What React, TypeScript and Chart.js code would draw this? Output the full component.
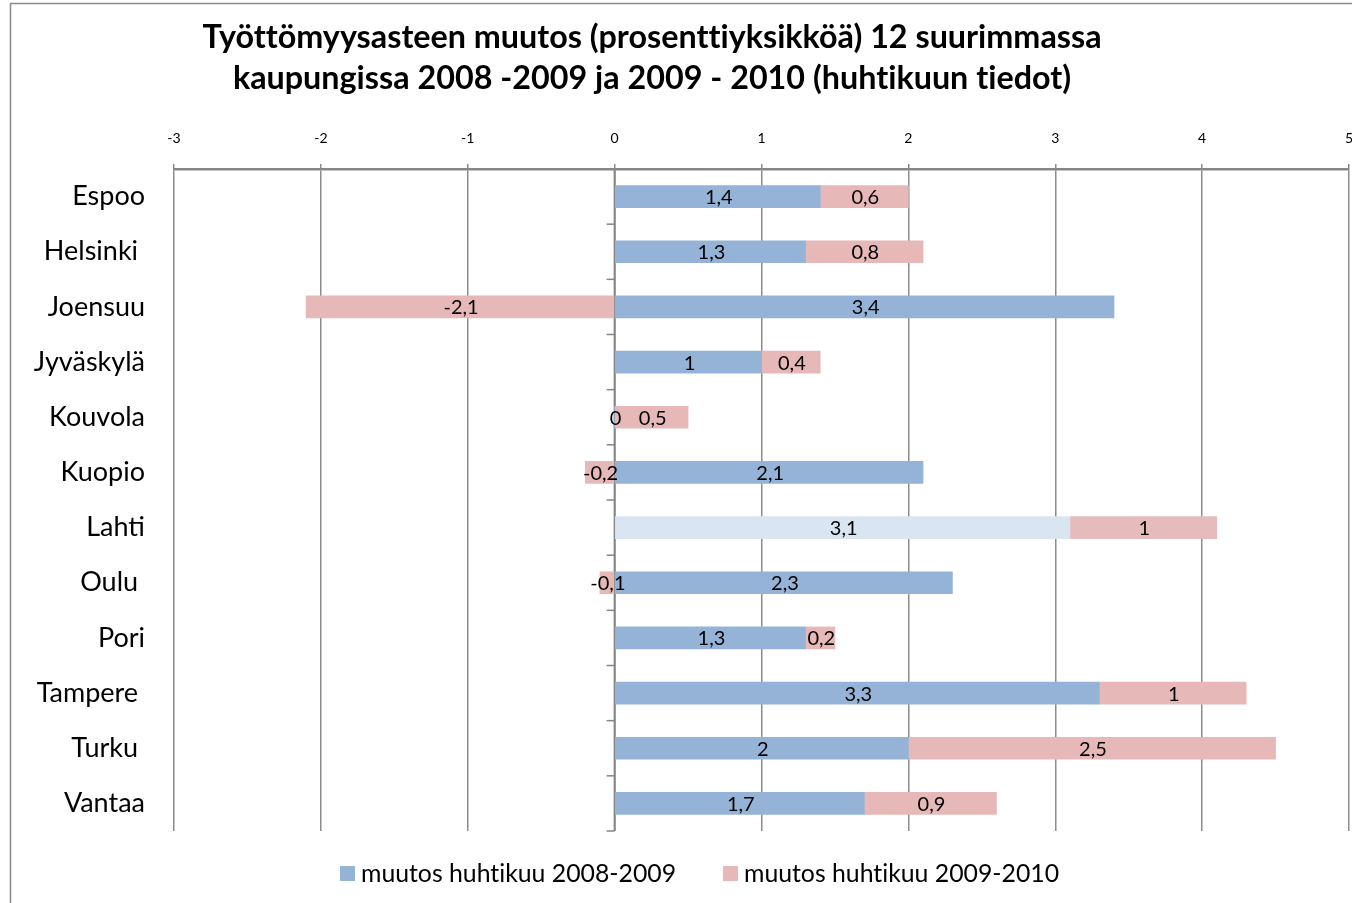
import React, { useEffect, useRef } from "react";
import { Chart, registerables } from "chart.js";

Chart.register(...registerables);

const titleLines = [
  "Työttömyysasteen muutos (prosenttiyksikköä) 12 suurimmassa",
  "kaupungissa 2008 -2009 ja 2009 - 2010 (huhtikuun tiedot)",
];
const cities = [
  "Espoo",
  "Helsinki ",
  "Joensuu",
  "Jyväskylä",
  "Kouvola",
  "Kuopio",
  "Lahti",
  "Oulu ",
  "Pori",
  "Tampere ",
  "Turku ",
  "Vantaa",
];
const change2008_2009 = [1.4, 1.3, 3.4, 1, 0, 2.1, 3.1, 2.3, 1.3, 3.3, 2, 1.7];
const change2009_2010 = [0.6, 0.8, -2.1, 0.4, 0.5, -0.2, 1, -0.1, 0.2, 1, 2.5, 0.9];
const seriesNames = ["muutos huhtikuu 2008-2009", "muutos huhtikuu 2009-2010"];
const xTicks = [-3, -2, -1, 0, 1, 2, 3, 4, 5];

const BLUE = "#95B3D7";
const PINK = "#E6B9B8";
const BLUE_LIGHT = "#DAE5F2";
const PINK_LIGHT = "#E5BCBB";
const FONT = "Lato, 'Open Sans', sans-serif";

const fmt = (v: number) => String(v).replace(".", ",");

const decorPlugin = {
  id: "decor",
  beforeDraw(chart: any) {
    const { ctx, width, height } = chart;
    ctx.save();
    ctx.fillStyle = "#ffffff";
    ctx.fillRect(0, 0, width, height);
    ctx.strokeStyle = "#8a8a8a";
    ctx.lineWidth = 1.5;
    ctx.beginPath();
    ctx.moveTo(10.5, height + 5);
    ctx.lineTo(10.5, 3.5);
    ctx.lineTo(width + 5, 3.5);
    ctx.stroke();
    ctx.restore();
  },
  beforeDatasetsDraw(chart: any) {
    const { ctx, chartArea, scales } = chart;
    const x0 = scales.x.getPixelForValue(0);
    const n = cities.length;
    const step = (chartArea.bottom - chartArea.top) / n;
    ctx.save();
    ctx.strokeStyle = "#868686";
    ctx.lineWidth = 2;
    ctx.beginPath();
    ctx.moveTo(x0, chartArea.top);
    ctx.lineTo(x0, chartArea.bottom);
    ctx.stroke();
    ctx.lineWidth = 1.5;
    for (let i = 1; i <= n; i++) {
      const yy = chartArea.top + i * step;
      ctx.beginPath();
      ctx.moveTo(x0 - 8, yy);
      ctx.lineTo(x0, yy);
      ctx.stroke();
    }
    ctx.restore();
  },
  afterDatasetsDraw(chart: any) {
    const { ctx } = chart;
    ctx.save();
    ctx.fillStyle = "#000000";
    ctx.font = `20px ${FONT}`;
    ctx.textAlign = "center";
    ctx.textBaseline = "middle";
    chart.data.datasets.forEach((ds: any, di: number) => {
      const meta = chart.getDatasetMeta(di);
      meta.data.forEach((el: any, i: number) => {
        const v = ds.data[i];
        const cx = (el.x + el.base) / 2;
        ctx.fillText(fmt(v), cx + 1, el.y + 1);
      });
    });
    ctx.restore();
  },
  afterDraw(chart: any) {
    const { ctx } = chart;
    ctx.save();
    try {
      (ctx as any).textRendering = "optimizeSpeed";
    } catch (e) {}
    ctx.fillStyle = "#000000";
    ctx.textAlign = "center";
    ctx.textBaseline = "middle";
    ctx.font = `bold 32.3px ${FONT}`;
    ctx.fillText(titleLines[0], 652, 38);
    ctx.fillText(titleLines[1], 652, 79);

    ctx.font = `24.8px ${FONT}`;
    ctx.textAlign = "left";
    const items = [
      { x: 340, color: BLUE, text: seriesNames[0] },
      { x: 723, color: PINK, text: seriesNames[1] },
    ];
    items.forEach((it) => {
      ctx.fillStyle = it.color;
      ctx.fillRect(it.x, 866, 15, 15);
      ctx.fillStyle = "#000000";
      ctx.fillText(it.text, it.x + 21, 874);
    });
    ctx.restore();
  },
};

export default function App() {
  const canvasRef = useRef<HTMLCanvasElement | null>(null);

  useEffect(() => {
    if (!canvasRef.current) return;
    const chart = new Chart(canvasRef.current, {
      type: "bar",
      data: {
        labels: cities,
        datasets: [
          {
            label: seriesNames[0],
            data: change2008_2009,
            backgroundColor: cities.map((c) => (c === "Lahti" ? BLUE_LIGHT : BLUE)),
            barThickness: 22,
            borderWidth: 0,
          },
          {
            label: seriesNames[1],
            data: change2009_2010,
            backgroundColor: cities.map((c) => (c === "Lahti" ? PINK_LIGHT : PINK)),
            barThickness: 22,
            borderWidth: 0,
          },
        ],
      },
      options: {
        indexAxis: "y",
        animation: false,
        responsive: false,
        maintainAspectRatio: false,
        layout: { padding: { top: 121, left: 0, right: 3, bottom: 72 } },
        plugins: {
          legend: { display: false },
          title: { display: false },
          tooltip: { enabled: false },
        },
        scales: {
          x: {
            position: "top",
            min: -3,
            max: 5,
            stacked: true,
            afterFit: (s: any) => {
              s.height = 48;
              s.paddingLeft = 0;
              s.paddingRight = 0;
            },
            afterBuildTicks: (s: any) => {
              s.ticks = xTicks.map((v) => ({ value: v }));
            },
            ticks: {
              stepSize: 1,
              padding: 17,
              color: "#000000",
              font: { family: FONT, size: 14 },
              callback: (v: any) => String(v),
            },
            grid: {
              color: "#8c8c8c",
              lineWidth: 1.5,
              tickLength: 5,
              drawTicks: true,
            },
            border: { display: true, color: "#868686", width: 2.5 },
          },
          y: {
            position: "left",
            stacked: true,
            afterFit: (s: any) => {
              s.width = 174;
            },
            ticks: {
              padding: 29,
              color: "#000000",
              font: { family: FONT, size: 27 },
            },
            grid: { display: false, drawTicks: false },
            border: { display: false },
          },
        },
      },
      plugins: [decorPlugin],
    });
    return () => chart.destroy();
  }, []);

  return (
    <div style={{ position: "fixed", left: 0, top: 0, width: 1352, height: 903, background: "#fff" }}>
      <canvas ref={canvasRef} width={1352} height={903} style={{ width: 1352, height: 903, display: "block" }} />
    </div>
  );
}
